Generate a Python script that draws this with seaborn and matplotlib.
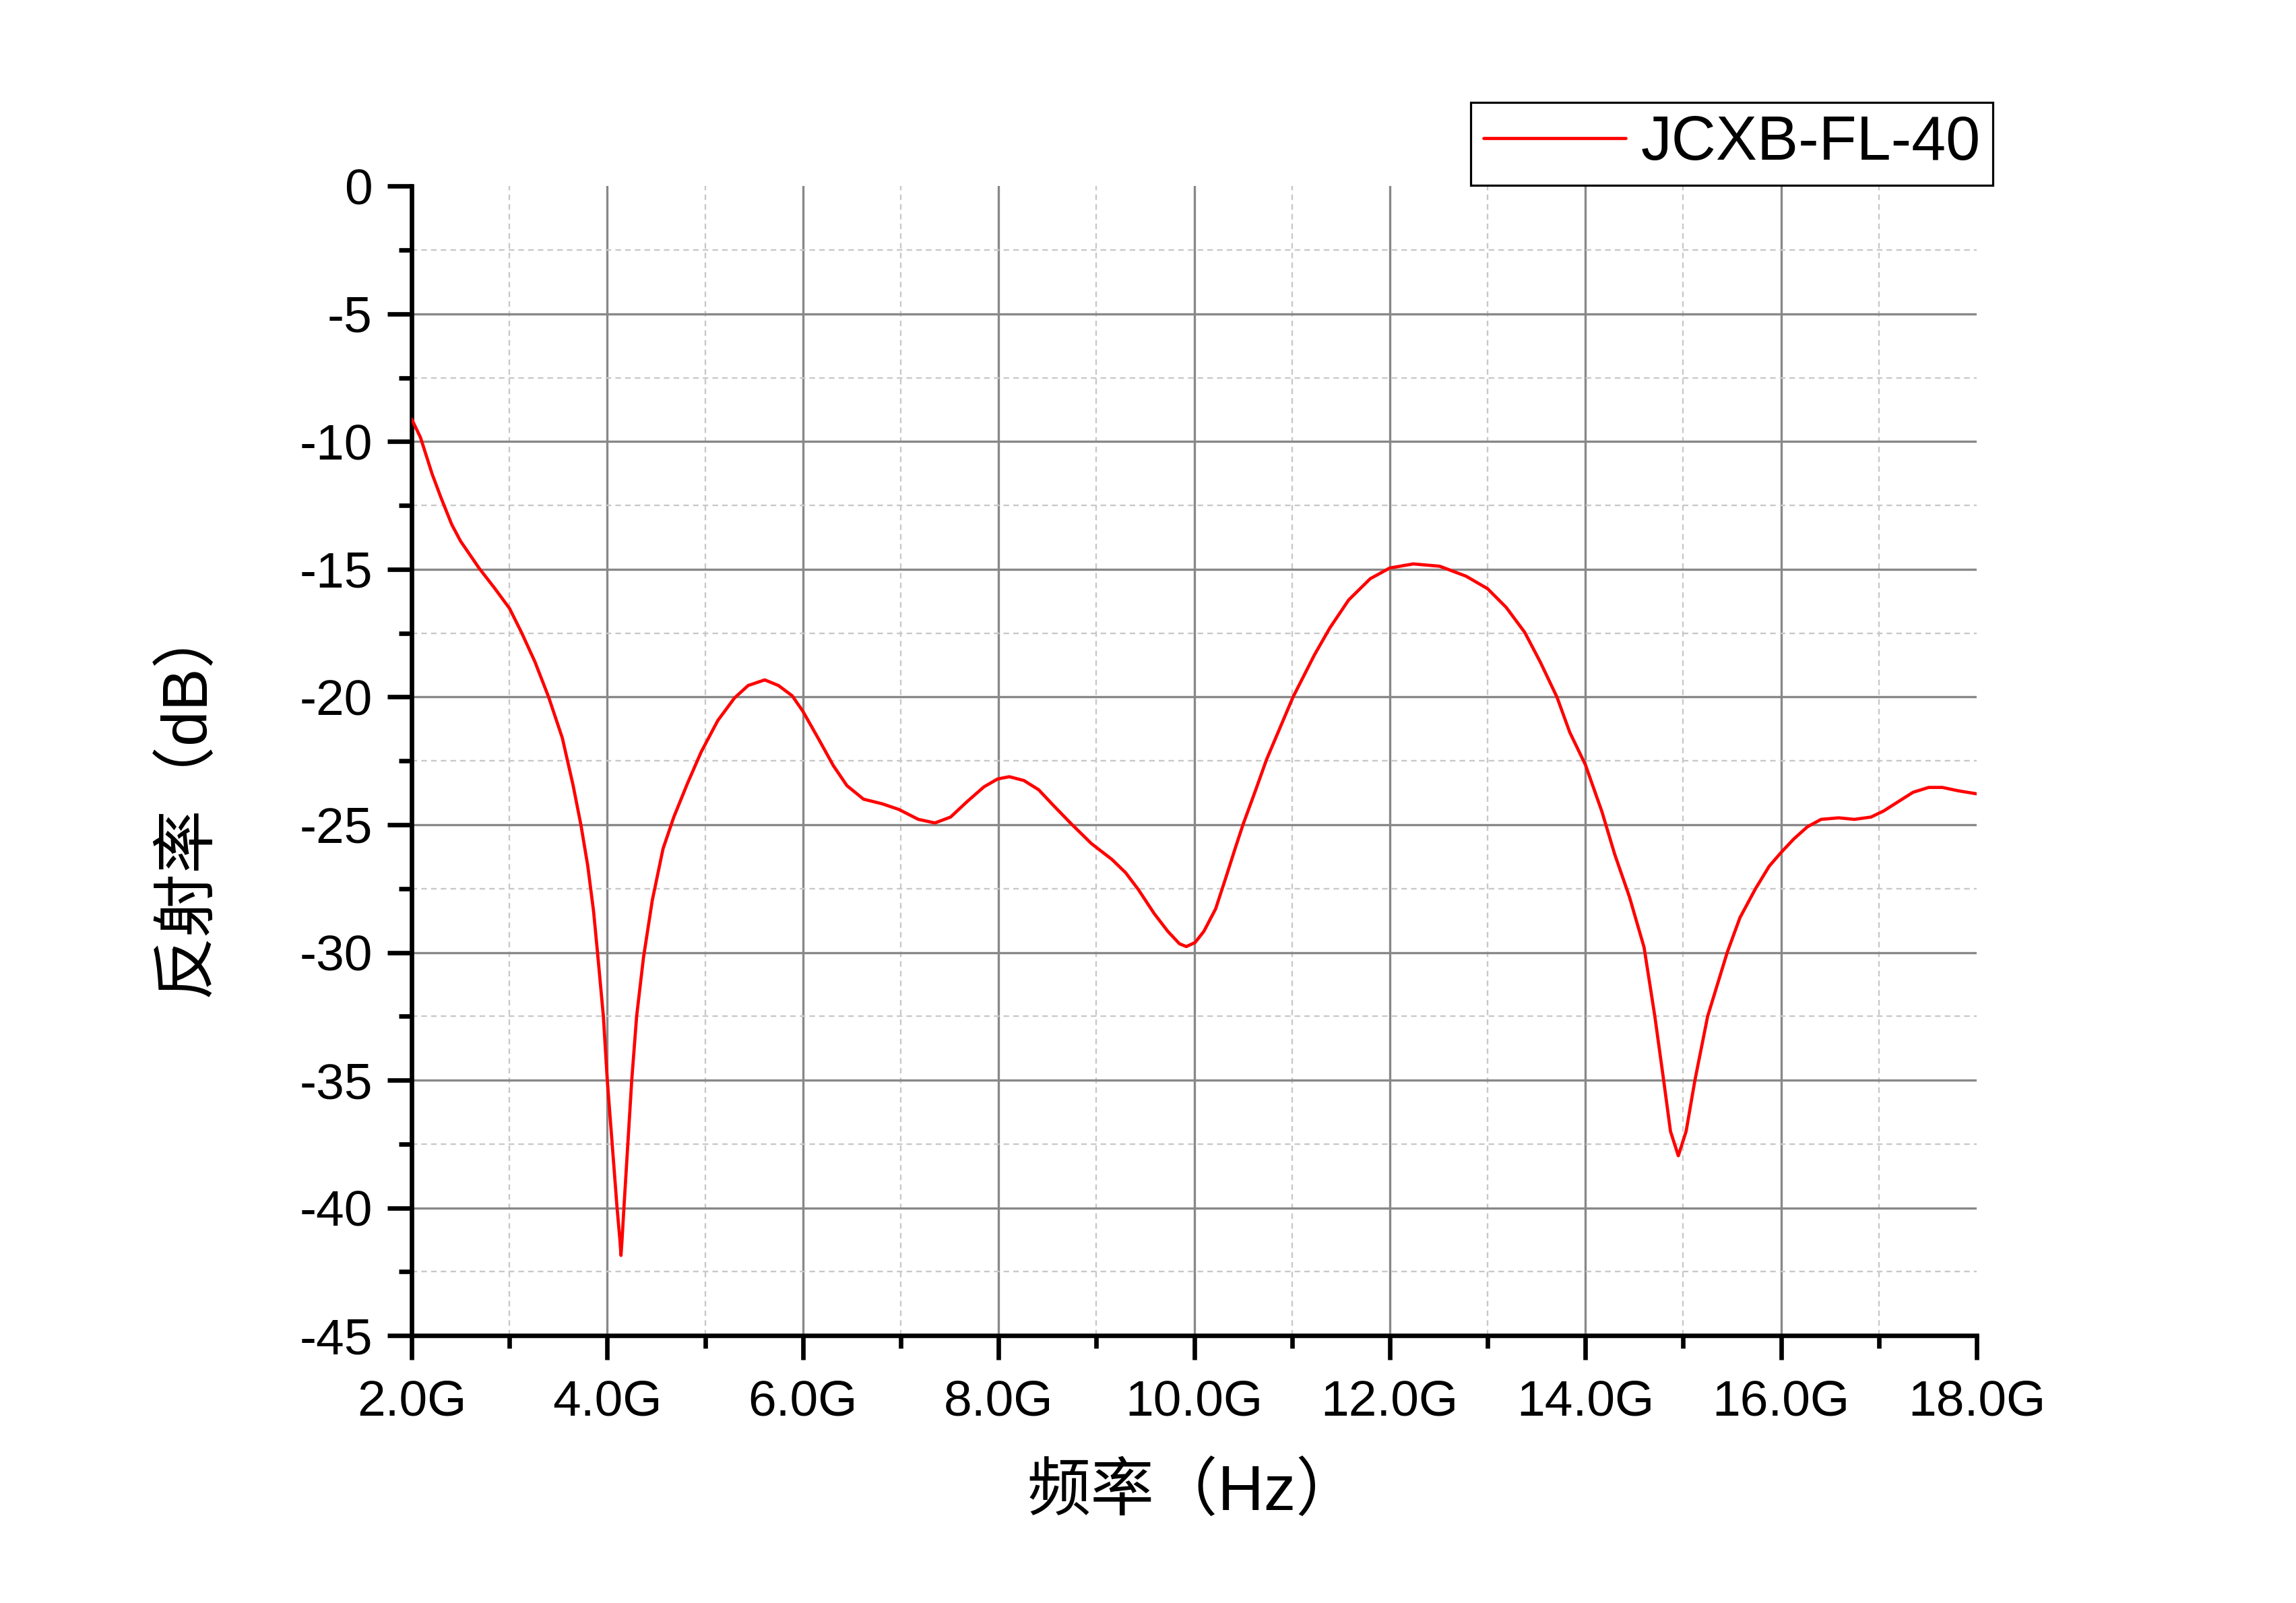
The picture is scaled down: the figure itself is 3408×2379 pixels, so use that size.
import numpy as np
import pandas as pd
import seaborn as sns
import matplotlib
matplotlib.use('Agg')
import matplotlib.pyplot as plt
from matplotlib.ticker import MultipleLocator

# reflectivity curve (GHz, dB)
freq_ghz = [2.00, 2.09, 2.21, 2.30, 2.41, 2.50, 2.69, 2.85, 3.00, 3.12,
            3.26, 3.40, 3.54, 3.65, 3.73, 3.80, 3.86, 3.90, 3.96, 4.00,
            4.05, 4.10, 4.13, 4.14, 4.15, 4.17, 4.21, 4.25, 4.30, 4.37,
            4.46, 4.57, 4.68, 4.82, 4.96, 5.13, 5.30, 5.44, 5.61, 5.75,
            5.89, 6.00, 6.17, 6.31, 6.45, 6.62, 6.81, 6.98, 7.18, 7.35,
            7.51, 7.68, 7.85, 7.99, 8.11, 8.26, 8.41, 8.56, 8.74, 8.95,
            9.16, 9.30, 9.43, 9.59, 9.73, 9.85, 9.92, 10.01, 10.10, 10.22,
            10.33, 10.42, 10.50, 10.63, 10.74, 11.01, 11.23, 11.39, 11.58, 11.80,
            12.00, 12.24, 12.51, 12.78, 13.00, 13.19, 13.38, 13.54, 13.71, 13.84,
            14.00, 14.17, 14.30, 14.45, 14.60, 14.71, 14.80, 14.87, 14.95, 15.03,
            15.12, 15.25, 15.45, 15.58, 15.74, 15.88, 16.00, 16.13, 16.27, 16.41,
            16.59, 16.75, 16.92, 17.05, 17.21, 17.35, 17.51, 17.65, 17.81, 18.00]
refl_db = [-9.12, -9.84, -11.28, -12.20, -13.25, -13.90, -14.96, -15.75, -16.53, -17.45,
           -18.62, -20.00, -21.60, -23.45, -25.00, -26.60, -28.40, -30.00, -32.50, -35.00,
           -37.50, -40.00, -41.30, -41.86, -41.30, -40.00, -37.50, -35.00, -32.50, -30.20,
           -27.96, -25.94, -24.70, -23.38, -22.15, -20.92, -20.04, -19.55, -19.33, -19.55,
           -19.95, -20.56, -21.71, -22.68, -23.47, -24.00, -24.18, -24.40, -24.79, -24.93,
           -24.70, -24.09, -23.52, -23.21, -23.12, -23.27, -23.63, -24.24, -24.95, -25.74,
           -26.36, -26.88, -27.54, -28.47, -29.17, -29.66, -29.77, -29.61, -29.17, -28.29,
           -27.00, -25.92, -24.99, -23.63, -22.45, -20.01, -18.35, -17.28, -16.20, -15.37,
           -14.95, -14.79, -14.88, -15.27, -15.76, -16.49, -17.47, -18.64, -20.01, -21.38,
           -22.65, -24.50, -26.16, -27.82, -29.80, -32.50, -35.00, -37.00, -37.96, -37.00,
           -35.00, -32.50, -30.00, -28.64, -27.50, -26.62, -26.09, -25.56, -25.08, -24.79,
           -24.73, -24.79, -24.70, -24.46, -24.07, -23.73, -23.54, -23.54, -23.67, -23.79]

x_ticks = [2, 4, 6, 8, 10, 12, 14, 16, 18]
x_labels = ['2.0G', '4.0G', '6.0G', '8.0G', '10.0G', '12.0G', '14.0G', '16.0G', '18.0G']
y_ticks = [0, -5, -10, -15, -20, -25, -30, -35, -40, -45]
y_labels = ['0', '-5', '-10', '-15', '-20', '-25', '-30', '-35', '-40', '-45']
series_name = 'JCXB-FL-40'
x_title = '频率（Hz）'
y_title = '反射率（dB）'

df = pd.DataFrame({'freq': freq_ghz, 'refl': refl_db})

sns.set_theme(style='ticks')
plt.rcParams['font.family'] = ['Liberation Sans', 'Noto Sans CJK SC', 'DejaVu Sans']
plt.rcParams['axes.unicode_minus'] = False
plt.rcParams['text.color'] = 'black'
plt.rcParams['xtick.color'] = 'black'
plt.rcParams['ytick.color'] = 'black'
plt.rcParams['xtick.labelcolor'] = 'black'
plt.rcParams['ytick.labelcolor'] = 'black'

fig = plt.figure(figsize=(34.08, 23.79), dpi=100)
ax = fig.add_axes([0.1793, 0.1668, 0.6816, 0.7171])

ax.grid(which='major', color='#888888', linewidth=2.4, linestyle='-')
ax.grid(which='minor', color='#c8c8c8', linewidth=1.7, linestyle=(0, (3.5, 2.6)))
ax.set_axisbelow(True)

sns.lineplot(data=df, x='freq', y='refl', ax=ax, color='#ff0000', linewidth=3.4,
             estimator=None, sort=False, label=series_name, zorder=3)

ax.set_xlim(2, 18)
ax.set_ylim(-45, 0)
ax.set_xticks(x_ticks)
ax.set_xticklabels(x_labels)
ax.set_yticks(y_ticks)
ax.set_yticklabels(y_labels)
ax.xaxis.set_minor_locator(MultipleLocator(1))
ax.yaxis.set_minor_locator(MultipleLocator(2.5))

for side in ['top', 'right']:
    ax.spines[side].set_visible(False)
for side in ['left', 'bottom']:
    ax.spines[side].set_linewidth(4.8)
    ax.spines[side].set_color('black')

ax.tick_params(which='major', direction='out', length=26, width=4.8,
               color='black', labelcolor='black', labelsize=54, pad=16,
               bottom=True, left=True, top=False, right=False)
ax.tick_params(which='minor', direction='out', length=14, width=4.8, color='black',
               bottom=True, left=True, top=False, right=False)
ax.tick_params(axis='x', which='major', pad=20)
ax.set_xlabel('')
ax.set_ylabel('')

# no grid line on the open top and right edges
fig.canvas.draw()
for tick in ax.xaxis.get_major_ticks():
    if abs(tick.get_loc() - 18) < 1e-6:
        tick.gridline.set_visible(False)
for tick in ax.yaxis.get_major_ticks():
    if abs(tick.get_loc()) < 1e-6:
        tick.gridline.set_visible(False)

fig.text(0.5197, 0.0685, x_title, ha='center', va='center', fontsize=68)
fig.text(0.0816, 0.5020, y_title, ha='center', va='center', fontsize=68, rotation=90)

leg = ax.legend(loc='upper right', bbox_to_anchor=(0.868, 0.9361),
                bbox_transform=fig.transFigure, fontsize=66, frameon=True,
                fancybox=False, framealpha=1, edgecolor='black',
                borderpad=0.2, handlelength=2.3, handletextpad=0.25,
                borderaxespad=0)
leg.get_frame().set_linewidth(2.3)
for line in leg.get_lines():
    line.set_linewidth(3.4)

fig.savefig('out.png', dpi=100, facecolor='white')
